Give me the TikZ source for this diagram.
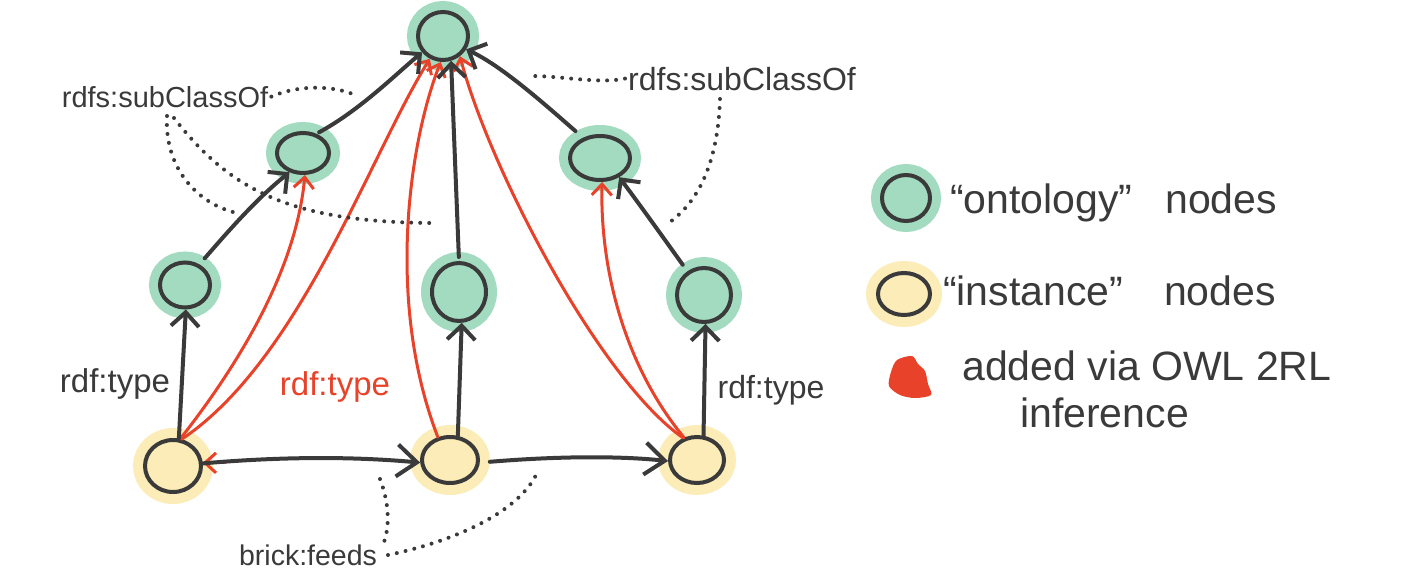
\documentclass[tikz,border=0pt]{standalone}
\usepackage{fontspec}
\setmainfont{Liberation Sans}
\usetikzlibrary{arrows.meta,shapes.geometric,calc}
\definecolor{ink}{HTML}{3A3A3A}
\definecolor{mint}{HTML}{A3DBC0}
\definecolor{cream}{HTML}{FBECB8}
\definecolor{redc}{HTML}{E8432A}
\begin{document}
\begin{tikzpicture}[x=1pt,y=-1pt,
  basenode/.style={ellipse, draw=ink, line width=4pt, inner sep=0pt},
  onto/.style={basenode, fill=mint, preaction={draw=mint, line width=22pt}},
  inst/.style={basenode, fill=cream, preaction={draw=cream, line width=24pt}},
  blk/.style={draw=ink, line width=4pt, line cap=round, line join=round, -{Straight Barb[length=14pt,width=28pt]}},
  blkwide/.style={blk, -{Straight Barb[length=20pt,width=32pt]}},
  infer/.style={draw=redc, line width=3pt, line cap=round, line join=round, -{Straight Barb[length=11pt,width=20pt]}},
  dots/.style={draw=ink, line width=4pt, line cap=round, dash pattern=on 0pt off 9pt},
  lbl/.style={text=ink, inner sep=3pt, anchor=base},
  leg/.style={text=ink, inner sep=0pt, anchor=base west, font=\fontsize{41}{48}\selectfont},
]
\fill[white] (0,0) rectangle (1424,586);
\useasboundingbox (0,0) rectangle (1424,586);

% nodes
\node[onto, minimum width=50pt, minimum height=48pt] (top) at (443,36) {};
\node[onto, minimum width=52pt, minimum height=40pt] (l2l) at (303,153) {};
\node[onto, minimum width=60pt, minimum height=44pt] (l2r) at (600,158) {};
\node[onto, minimum width=50pt, minimum height=45pt] (l3l) at (185,285) {};
\node[onto, minimum width=54pt, minimum height=58pt] (l3m) at (459,292) {};
\node[onto, minimum width=54pt, minimum height=54pt] (l3r) at (704,295) {};
\node[inst, minimum width=56pt, minimum height=52pt] (yl) at (173,466) {};
\node[inst, minimum width=56pt, minimum height=46pt] (ym) at (450,460) {};
\node[inst, minimum width=54pt, minimum height=46pt] (yr) at (697,460) {};

% red inferred edges
\draw[infer] (yl.75) .. controls (250,350) and (297,260) .. (l2l.-85);
\draw[infer] (yl.72) .. controls (300,360) and (370,155) .. (top.240);
\draw[infer] (ym.118) .. controls (385,300) and (410,140) .. (top.265);
\draw[infer] (yr.122) .. controls (600,380) and (490,170) .. (top.-50);
\draw[infer] (yr.120) .. controls (620,360) and (600,260) .. (l2r.-85);
\draw[infer] ([xshift=22pt]yl.6) -- (yl.6);

% black edges
\draw[blk] (yl.78) -- (l3l.-88);
\draw[blk] (ym.72) -- (l3m.-85);
\draw[blk] (yr.75) -- (l3r.-87);
\draw[blkwide] (yl.5) .. controls (300,455) and (370,458) .. (ym.185);
\draw[blkwide, shorten <=10pt] (ym.-5) .. controls (560,456) and (620,456) .. (yr.182);
\draw[blk, shorten <=8pt] (l3l.55) .. controls (225,235) and (255,200) .. (l2l.235);
\draw[blk, shorten <=3pt] (l2l.55) .. controls (360,110) and (395,75) .. (top.218);
\draw[blk, shorten <=4pt] (l3m.north) -- (top.-72);
\draw[blk, shorten <=10pt] (l2r.130) .. controls (540,100) and (500,65) .. (top.-30);
\draw[blk, shorten <=8pt] (l3r.125) .. controls (665,240) and (640,205) .. (l2r.-45);

% labels
\node[lbl, font=\fontsize{29}{34}\selectfont] (lblL) at (165,107) {rdfs:subClassOf};
\node[lbl, font=\fontsize{32}{38}\selectfont] (lblR) at (742,90) {rdfs:subClassOf};
\node[lbl, font=\fontsize{33}{38}\selectfont] (typeL) at (115,392) {rdf:type};
\node[lbl, font=\fontsize{33}{38}\selectfont, text=redc] (typeM) at (335,395) {rdf:type};
\node[lbl, font=\fontsize{32}{38}\selectfont] (typeR) at (771,398) {rdf:type};
\node[lbl, font=\fontsize{28.5}{34}\selectfont] (feeds) at (308,565) {brick:feeds};

% dotted pointers
\coordinate (dL0) at (355,95);
\coordinate (dL1s) at (167,116);
\coordinate (dL1e) at (237,213);
\coordinate (dL2s) at (174,118);
\coordinate (dL2e) at (432,223);
\draw[dots] (lblL.east) .. controls (300,84) and (335,86) .. (dL0);
\draw[dots] (dL1s) .. controls (164,170) and (200,205) .. (dL1e);
\draw[dots] (dL2s) .. controls (230,190) and (290,222) .. (dL2e);

\coordinate (dR0) at (533,76);
\coordinate (dR1s) at (720,99);
\coordinate (dR1e) at (670,222);
\draw[dots] (lblR.west) .. controls (600,84) and (560,76) .. (dR0);
\draw[dots] (dR1s) .. controls (718,160) and (700,200) .. (dR1e);

\coordinate (dF1s) at (380,479);
\coordinate (dF1e) at (382,547);
\coordinate (dF2s) at (388,555);
\coordinate (dF2e) at (537,473);
\draw[dots] (dF1s) .. controls (390,505) and (390,530) .. (dF1e);
\draw[dots] (dF2s) .. controls (460,540) and (520,510) .. (dF2e);

% legend
\node[onto, minimum width=48pt, minimum height=46pt] (lgo) at (906,198) {};
\node[inst, minimum width=52pt, minimum height=42pt] (lgi) at (904,294) {};
\fill[redc] plot[smooth cycle] coordinates {(897,360) (912,356) (918,364) (925,371) (928,384) (931,395) (915,398) (900,395) (889,386) (891,372)};
\node[leg] (leg1) at (950,213) {“ontology”\hspace{0.8em}nodes};
\node[leg] (leg2) at (943,305) {“instance”\hspace{1em}nodes};
\node[leg] (leg3) at (962,380) {added via OWL 2RL};
\node[leg] (leg4) at (1020,427) {inference};
\end{tikzpicture}
\end{document}
